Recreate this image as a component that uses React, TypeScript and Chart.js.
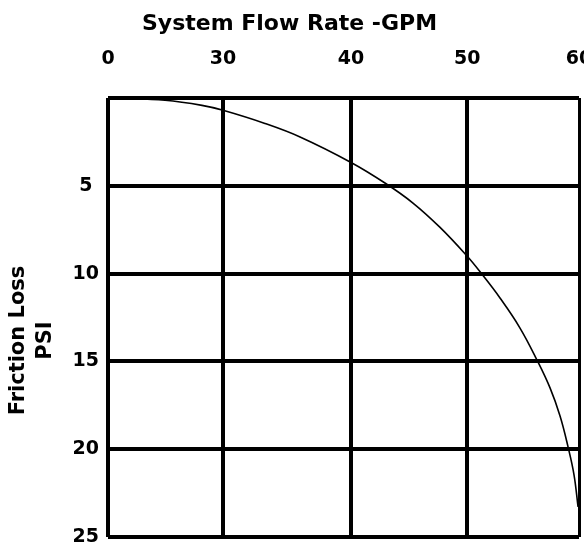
import React, { useEffect, useRef } from 'react';
import { Chart, registerables } from 'chart.js';

Chart.register(...registerables);

// X axis: grid-unit positions of the flow-rate ticks and their labels (GPM)
const xTickPositions = [0, 0.977, 2.064, 3.05, 4];
const xTickLabels = ['0', '30', '40', '50', '60'];

// Y axis: friction loss ticks (PSI)
const yTickValues = [0, 5, 10, 15, 20, 25];
const yTickLabels = ['', '5', '10', '15', '20', '25'];

// Curve (x in grid units, y in PSI)
const curveX = [0.085, 0.484, 0.798, 0.977, 1.333, 1.631, 2.064, 2.352, 2.59, 2.82, 3.049, 3.168, 3.329, 3.499, 3.643, 3.754, 3.839, 3.907, 3.958, 3.992];
const curveY = [0, 0.13, 0.42, 0.7, 1.45, 2.22, 3.67, 4.84, 5.98, 7.37, 9.0, 9.97, 11.39, 13.1, 14.92, 16.51, 18.11, 19.87, 21.47, 23.29];

const xTitle = 'System Flow Rate -GPM';
const yTitleLines = ['Friction Loss', 'PSI'];

const FONT = '"DejaVu Sans", sans-serif';

const yTitlePlugin = {
  id: 'yTitlePlugin',
  afterDraw(chart: any) {
    const { ctx, chartArea } = chart;
    const cy = (chartArea.top + chartArea.bottom) / 2 + 23;
    const xs = [chartArea.left - 89, chartArea.left - 62];
    ctx.save();
    ctx.fillStyle = '#000';
    ctx.font = `bold 21px ${FONT}`;
    ctx.textAlign = 'center';
    ctx.textBaseline = 'middle';
    yTitleLines.forEach((line, i) => {
      ctx.save();
      ctx.translate(xs[i], cy);
      ctx.rotate(-Math.PI / 2);
      ctx.fillText(line, 0, 0);
      ctx.restore();
    });
    ctx.restore();
  },
};

export default function App() {
  const canvasRef = useRef<HTMLCanvasElement | null>(null);

  useEffect(() => {
    const canvas = canvasRef.current;
    if (!canvas) return;
    const chart = new Chart(canvas, {
      type: 'line',
      data: {
        datasets: [
          {
            data: curveX.map((x, i) => ({ x, y: curveY[i] })),
            borderColor: '#000',
            borderWidth: 1.6,
            pointRadius: 0,
            fill: false,
            tension: 0.4,
            clip: 4,
          } as any,
        ],
      },
      options: {
        responsive: false,
        animation: false,
        devicePixelRatio: 1,
        layout: { padding: { left: 0, right: 5, top: 0, bottom: 7 } },
        plugins: {
          legend: { display: false },
          tooltip: { enabled: false },
          title: {
            display: true,
            text: xTitle,
            color: '#000',
            font: { family: FONT, size: 22, weight: 'bold' },
            padding: { top: 11, bottom: 9 },
          },
        },
        scales: {
          x: {
            type: 'linear',
            position: 'top',
            min: 0,
            max: 4,
            afterBuildTicks: (scale: any) => {
              scale.ticks = xTickPositions.map((v) => ({ value: v }));
            },
            afterFit: (scale: any) => {
              scale.height = 98 - (11 + 26.4 + 9);
              scale.paddingLeft = 0;
              scale.paddingRight = 0;
            },
            ticks: {
              color: '#000',
              font: { family: FONT, size: 19, weight: 'bold' },
              padding: 28,
              maxRotation: 0,
              autoSkip: false,
              callback: (_v: any, i: number) => xTickLabels[i],
            },
            grid: {
              color: '#000',
              lineWidth: (c: any) => (c.index === xTickPositions.length - 1 ? 3 : 4),
              drawTicks: false,
            },
            border: { display: false },
          },
          y: {
            type: 'linear',
            reverse: true,
            min: 0,
            max: 25,
            afterBuildTicks: (scale: any) => {
              scale.ticks = yTickValues.map((v) => ({ value: v }));
            },
            afterFit: (scale: any) => {
              scale.width = 108;
              scale.paddingTop = 0;
              scale.paddingBottom = 0;
            },
            ticks: {
              color: '#000',
              font: { family: FONT, size: 19, weight: 'bold' },
              padding: 9,
              crossAlign: 'center',
              autoSkip: false,
              callback: (_v: any, i: number) => yTickLabels[i],
            },
            grid: {
              color: '#000',
              lineWidth: 4,
              drawTicks: false,
            },
            border: { display: false },
          },
        },
      } as any,
      plugins: [yTitlePlugin],
    });
    return () => chart.destroy();
  }, []);

  return (
    <div style={{ position: 'absolute', left: 0, top: 0, width: 584, height: 544, background: '#fff' }}>
      <canvas ref={canvasRef} width={584} height={544} style={{ display: 'block', width: 584, height: 544 }} />
    </div>
  );
}
